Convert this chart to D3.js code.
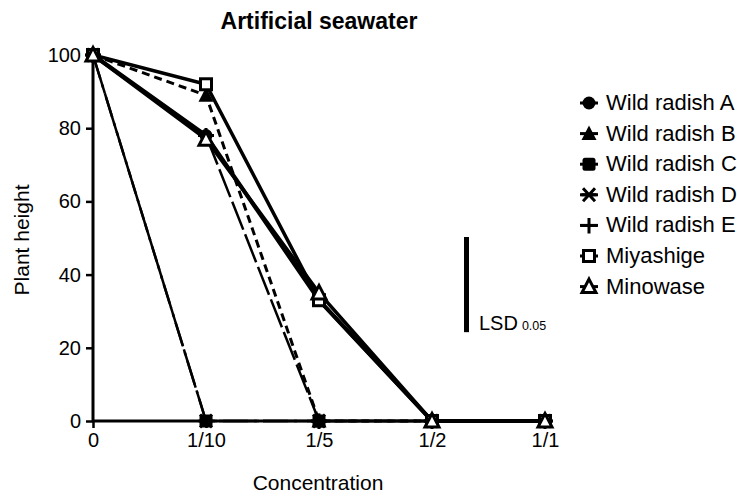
<!DOCTYPE html>
<html>
<head>
<meta charset="utf-8">
<script src="https://cdn.jsdelivr.net/npm/d3@7"></script>
<style>
  body { margin: 0; background: #fff; }
  text { font-family: "Liberation Sans", Arial, sans-serif; fill: #000; }
</style>
</head>
<body>
<script>
// categories and values
const concentrations = ["0", "1/10", "1/5", "1/2", "1/1"];
const yTicks = [0, 20, 40, 60, 80, 100];

const wildA = [100, 78, 33, 0, 0];
const wildB = [100, 89, 0, 0, 0];
const wildC = [100, 0, 0, 0, 0];
const wildD = [100, 0, 0, 0, 0];
const wildE = [100, 78, 0, 0, 0];
const miyashige = [100, 92, 33, 0, 0];
const minowase = [100, 77, 35, 0, 0];

const seriesNames = ["Wild radish A", "Wild radish B", "Wild radish C", "Wild radish D",
                     "Wild radish E", "Miyashige", "Minowase"];
const lsd = 26;

const series = [
    { name: seriesNames[0], values: wildA, marker: "circle", dash: null, width: 4 },
    { name: seriesNames[1], values: wildB, marker: "triFilled", dash: "8,5", width: 3 },
    { name: seriesNames[2], values: wildC, marker: "square", dash: "40,4", width: 2.5 },
    { name: seriesNames[3], values: wildD, marker: "asterisk", dash: "25,6,3,6", width: 2.5 },
    { name: seriesNames[4], values: wildE, marker: "plus", dash: "30,5", width: 2.5 },
    { name: seriesNames[5], values: miyashige, marker: "squareOpen", dash: null, width: 3.5 },
    { name: seriesNames[6], values: minowase, marker: "triOpen", dash: null, width: 3.5 }
];

const svg = d3.select("body").append("svg")
    .attr("width", 737)
    .attr("height", 499);

const x = d3.scalePoint().domain(concentrations).range([93, 545]);
const y = d3.scaleLinear().domain([0, 100]).range([421, 55]);

// axes
const yAxis = svg.append("g")
    .attr("transform", "translate(93,0)")
    .call(d3.axisLeft(y).tickValues(yTicks).tickSize(7).tickPadding(5));
const xAxis = svg.append("g")
    .attr("transform", "translate(0,421)")
    .call(d3.axisBottom(x).tickSize(7).tickPadding(5));
[xAxis, yAxis].forEach(a => {
    a.select(".domain").attr("stroke", "#000").attr("stroke-width", 3);
    a.selectAll(".tick line").attr("stroke", "#000").attr("stroke-width", 2.5);
    a.selectAll(".tick text").style("font-size", "20px").style("font-family", "Liberation Sans, Arial, sans-serif");
});
xAxis.select(".domain").attr("d", "M93,0H545");
yAxis.select(".domain").attr("d", "M0,55V421");

// titles
svg.append("text").attr("x", 319).attr("y", 29).attr("text-anchor", "middle")
    .style("font-size", "23px").style("font-weight", "bold").text("Artificial seawater");
svg.append("text").attr("x", 318).attr("y", 490).attr("text-anchor", "middle")
    .style("font-size", "21px").text("Concentration");
svg.append("text").attr("transform", "translate(29,240) rotate(-90)").attr("text-anchor", "middle")
    .style("font-size", "21px").text("Plant height");

// lines
const line = d3.line().x((d, i) => x(concentrations[i])).y(d => y(d));
const order = [2, 3, 4, 1, 0, 5, 6];
order.forEach(k => {
    const s = series[k];
    svg.append("path")
        .attr("d", line(s.values))
        .attr("fill", "none")
        .attr("stroke", "#000")
        .attr("stroke-width", s.width)
        .attr("stroke-dasharray", s.dash);
});

// markers
function drawMarker(g, type, cx, cy) {
    const m = g.append("g").attr("transform", `translate(${cx},${cy})`);
    if (type === "circle") {
        m.append("circle").attr("r", 6.5).attr("fill", "#000");
    } else if (type === "triFilled") {
        m.append("path").attr("d", "M0,-8L7.5,6.5H-7.5Z").attr("fill", "#000");
    } else if (type === "square") {
        m.append("rect").attr("x", -6.5).attr("y", -6.5).attr("width", 13).attr("height", 13)
            .attr("rx", 2.5).attr("fill", "#000");
    } else if (type === "asterisk") {
        m.append("path").attr("d", "M-7.5,0H7.5M-6,-6.5L6,6.5M6,-6.5L-6,6.5")
            .attr("stroke", "#000").attr("stroke-width", 3);
    } else if (type === "plus") {
        m.append("path").attr("d", "M-8,0H8M0,-7.5V8")
            .attr("stroke", "#000").attr("stroke-width", 3);
    } else if (type === "squareOpen") {
        m.append("rect").attr("x", -5.5).attr("y", -5.5).attr("width", 11).attr("height", 11)
            .attr("fill", "#fff").attr("stroke", "#000").attr("stroke-width", 3);
    } else if (type === "triOpen") {
        m.append("path").attr("d", "M0,-7.5L7,6H-7Z")
            .attr("fill", "#fff").attr("stroke", "#000").attr("stroke-width", 3);
    }
}

const markers = svg.append("g");
[2, 3, 4, 0, 1, 5, 6].forEach(k => {
    const s = series[k];
    s.values.forEach((v, i) => drawMarker(markers, s.marker, x(concentrations[i]), y(v)));
});

// LSD bar
const lsdTop = 237;
svg.append("rect")
    .attr("x", 464).attr("y", lsdTop)
    .attr("width", 5).attr("height", y(0) - y(lsd));
const lsdText = svg.append("text").attr("x", 479).attr("y", 330).style("font-size", "20px");
lsdText.append("tspan").text("LSD");
lsdText.append("tspan").attr("dx", 4).style("font-size", "12.5px").text("0.05");

// legend
const legend = svg.append("g");
series.forEach((s, i) => {
    const ly = 103 + i * 30.6;
    legend.append("line").attr("x1", 580).attr("x2", 598).attr("y1", ly).attr("y2", ly)
        .attr("stroke", "#000").attr("stroke-width", 3);
    drawMarker(legend, s.marker, 589, ly);
    legend.append("text").attr("x", 606).attr("y", ly + 7)
        .style("font-size", "22px").text(s.name);
});
</script>
</body>
</html>
